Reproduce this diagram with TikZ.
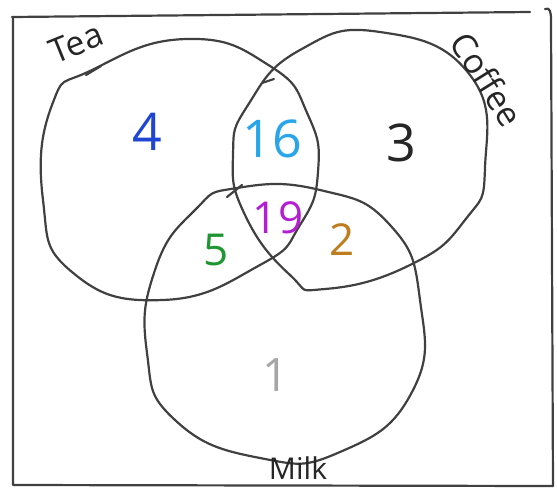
\documentclass[tikz,border=0pt]{standalone}
\usepackage{fontspec}
\setmainfont{Open Sans}
\begin{document}
\begin{tikzpicture}[x=1pt,y=-1pt,
  pen/.style={draw=black!75,line width=2.2pt,line cap=round,line join=round},
  lbl/.style={font=\fontsize{34}{36}\selectfont,text=black!85,inner sep=1pt},
  num/.style={font=\fontsize{52}{54}\selectfont}]
\useasboundingbox (0,0) rectangle (557,488);
% frame
\draw[pen] (13,18) -- (13,485) -- (553,486);
\draw[pen] (12,17) -- (530,12);
\draw[pen] (545,9) .. controls (550,7) and (551,12) .. (551,20) -- (553,486);
% Tea
\draw[pen] plot[smooth cycle,tension=0.85] coordinates {
 (43,200) (52,105) (92,70) (187,39) (270,66)
 (308,115) (318,172) (300,225) (260,265) (163,300)
 (72,272)};
\draw[pen] (86,75) -- (101,66);
% Coffee
\draw[pen] plot[smooth cycle,tension=0.85] coordinates {
 (233,155) (245,215) (290,275) (325,289)
 (410,265) (465,220) (485,168) (470,75)
 (380,32) (300,50) (248,105)};
\draw[pen] (262,83) -- (274,79);
% Milk
\draw[pen] plot[smooth cycle,tension=0.85] coordinates {
 (237,188) (320,190) (390,225) (420,300) (412,392)
 (340,452) (260,458) (175,420) (147,353) (155,270)
 (195,210)};
\draw[pen] (227,197) -- (242,185);
% labels
\node[lbl,rotate=22] (tea) at (76,43) {Tea};
\node[lbl,rotate=-58] (coffee) at (487,79) {Coffee};
\node[lbl,font=\fontsize{30}{32}\selectfont] (milk) at (298,468) {Milk};
% numbers
\node[num,text={rgb,255:red,30;green,70;blue,210}] (n4) at (147,132) {4};
\node[num,text={rgb,255:red,40;green,165;blue,235}] (n16) at (272,139) {16};
\node[num,text=black!85] (n3) at (401,143) {3};
\node[num,font=\fontsize{44}{46}\selectfont,text={rgb,255:red,30;green,150;blue,50}] (n5) at (216,250) {5};
\node[num,font=\fontsize{44}{46}\selectfont,text={rgb,255:red,180;green,30;blue,210}] (n19) at (278,218) {19};
\node[num,font=\fontsize{44}{46}\selectfont,text={rgb,255:red,190;green,125;blue,30}] (n2) at (342,240) {2};
\node[num,font=\fontsize{46}{48}\selectfont,text=black!35] (n1) at (276,375) {1};
\end{tikzpicture}
\end{document}
